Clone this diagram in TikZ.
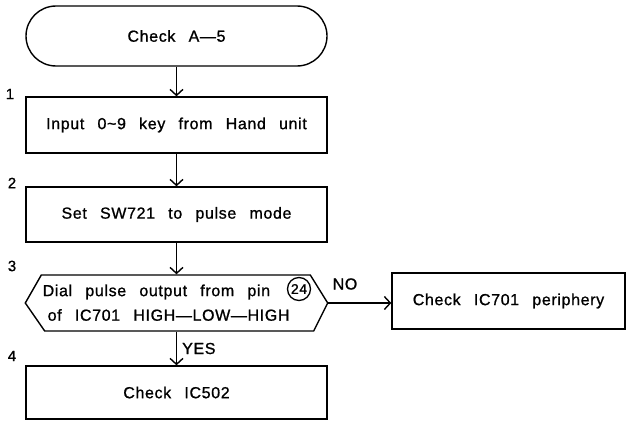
\documentclass[tikz,border=0pt]{standalone}
\usepackage{fontspec}
\newfontfamily\df[LetterSpace=4,WordSpace=2.6,FakeBold=1]{Liberation Sans}
\usetikzlibrary{arrows.meta}
\begin{document}
\begin{tikzpicture}[x=1pt,y=1pt,
  line width=1.4pt,
  every node/.style={font=\df\fontsize{16}{18}\selectfont},
  flowbox/.style={draw, minimum width=301pt, minimum height=56pt, inner sep=0pt},
  arr/.style={-{Straight Barb[length=6pt,width=13pt,line width=1.4pt]}},
  num/.style={font=\df\fontsize{15}{18}\selectfont}
]
\useasboundingbox (0,0) rectangle (628,-420);
% terminal
\node[draw, rounded corners=30pt, minimum width=301pt, minimum height=60pt, inner sep=0pt] (start) at (176.5,-36) {Check A—5};
\node[flowbox] (b1) at (176.5,-125) {Input 0\textasciitilde9 key from Hand unit};
\node[flowbox, minimum height=55pt] (b2) at (176.5,-214.5) {Set SW721 to pulse mode};
% decision
\node[minimum width=301pt, minimum height=56pt, inner sep=0pt] (dec) at (176.5,-303) {};
\draw (dec.west) -- ++(16,28) -- ++(269,0) -- (dec.east) -- ++(-14,-28) -- ++(-269,0) -- cycle;
\node[anchor=west, inner sep=0pt] (d1) at (42,-292) {Dial pulse output from pin};
\node[anchor=west, inner sep=0pt] (d2) at (47,-315) {of IC701 HIGH—LOW—HIGH};
\node[draw, circle, line width=1.3pt, inner sep=0.4pt, minimum size=23pt, font=\df\fontsize{14}{15}\selectfont] (pin) at (299,-289) {24};
\node[flowbox, minimum width=233pt] (no) at (508.5,-301) {Check IC701 periphery};
\node[flowbox, minimum height=53pt] (b4) at (176.5,-392.5) {Check IC502};
% numbers
\node[num] (n1) at (10,-94) {1};
\node[num] (n2) at (12,-183) {2};
\node[num] (n3) at (12,-266) {3};
\node[num] (n4) at (12,-356) {4};
% arrows
\draw[arr] (start.south) -- (b1.north);
\draw[arr] (b1.south) -- (b2.north);
\draw[arr] (b2.south) -- (dec.north);
\draw[arr] (dec.south) -- node[right, xshift=5pt, inner sep=0pt] (yes) {YES} (b4.north);
\draw[arr] (dec.east) -- (dec.east -| no.west);
\node[inner sep=0pt] (nolbl) at (345,-284) {NO};
\end{tikzpicture}
\end{document}
